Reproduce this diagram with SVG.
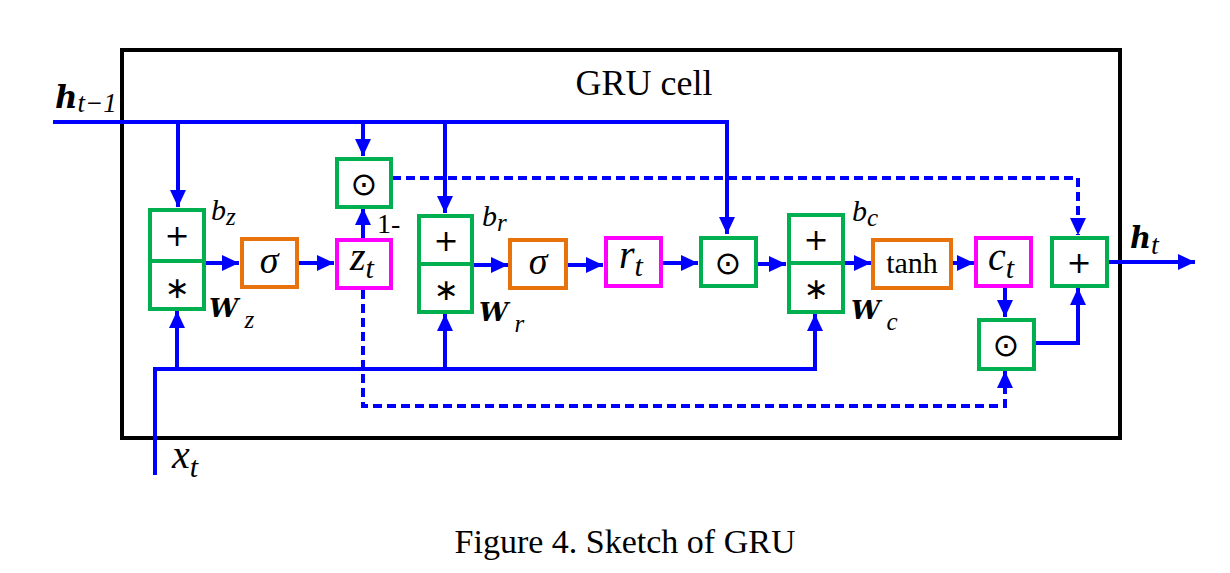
<svg xmlns="http://www.w3.org/2000/svg" width="1230" height="573" viewBox="0 0 1230 573">
<style>
.g{fill:#fff;stroke:#00B050;stroke-width:4}
.o{fill:#fff;stroke:#E8730C;stroke-width:4}
.m{fill:#fff;stroke:#FF00FF;stroke-width:4}
.w{fill:none;stroke:#0000FF;stroke-width:4}
.d{fill:none;stroke:#0000FF;stroke-width:4;stroke-dasharray:9 5}
.t{font-family:"Liberation Serif","DejaVu Serif",serif;fill:#000}
.mi{font-family:"Liberation Serif","DejaVu Serif",serif;font-style:italic;fill:#000}
.mb{font-family:"DejaVu Serif","Liberation Serif",serif;font-style:italic;font-weight:bold;fill:#000}
.op{font-family:"DejaVu Sans","Liberation Sans",sans-serif;fill:#000;text-anchor:middle}
</style>
<defs>
<marker id="a" markerUnits="userSpaceOnUse" markerWidth="18" markerHeight="16" refX="17" refY="8" orient="auto">
<path d="M0,0 L17,8 L0,16 Z" fill="#0000FF"/>
</marker>
</defs>
<rect x="0" y="0" width="1230" height="573" fill="#fff"/>
<rect x="122" y="50" width="998" height="388" fill="none" stroke="#000" stroke-width="4"/>
<text class="t" x="644" y="95" font-size="36" text-anchor="middle">GRU cell</text>
<text class="t" x="625" y="553" font-size="34" text-anchor="middle">Figure 4. Sketch of GRU</text>

<g id="connectors">
<path class="w" d="M53,122 H727 V234" marker-end="url(#a)"/>
<path class="w" d="M178,122 V207" marker-end="url(#a)"/>
<path class="w" d="M363,122 V156" marker-end="url(#a)"/>
<path class="w" d="M445,122 V213" marker-end="url(#a)"/>
<path class="w" d="M205,263 H239" marker-end="url(#a)"/>
<path class="w" d="M298,263 H334" marker-end="url(#a)"/>
<path class="w" d="M363,238 V208" marker-end="url(#a)"/>
<path class="w" d="M473,265 H508" marker-end="url(#a)"/>
<path class="w" d="M567,265 H603" marker-end="url(#a)"/>
<path class="w" d="M662,263 H698" marker-end="url(#a)"/>
<path class="w" d="M757,264 H786" marker-end="url(#a)"/>
<path class="w" d="M845,263 H871" marker-end="url(#a)"/>
<path class="w" d="M952,263 H974" marker-end="url(#a)"/>
<path class="w" d="M1005,287 V317" marker-end="url(#a)"/>
<path class="w" d="M1035,343 H1078 V288" marker-end="url(#a)"/>
<path class="w" d="M1108,262 H1195" marker-end="url(#a)"/>
<path class="d" d="M392,178 H1078 V235" marker-end="url(#a)"/>
<path class="d" d="M363,290 V406 H1005 V371" marker-end="url(#a)"/>
<path class="w" d="M155,475 V369 H815 V314" marker-end="url(#a)"/>
<path class="w" d="M177,369 V311" marker-end="url(#a)"/>
<path class="w" d="M445,369 V314" marker-end="url(#a)"/>
</g>

<g id="h_prev"><text class="mb" x="55" y="108" font-size="31">h<tspan class="mi" font-weight="normal" font-size="27" dy="4">t−1</tspan></text></g>
<g id="x_t"><text class="mi" x="172" y="468" font-size="40">x<tspan font-size="30" dy="9">t</tspan></text></g>
<g id="h_t"><text class="mb" x="1130" y="248" font-size="29">h<tspan class="mi" font-weight="normal" font-size="28" dy="6">t</tspan></text></g>

<g id="adder_z">
<rect class="g" x="150" y="210" width="54" height="99"/>
<line x1="150" y1="261" x2="204" y2="261" stroke="#00B050" stroke-width="4"/>
<text class="op" x="177" y="246" font-size="30">+</text>
<text class="op" x="177" y="298" font-size="30">∗</text>
<text class="mi" x="211" y="220" font-size="30">b<tspan font-size="25" dy="5">z</tspan></text>
<text class="mb" x="209" y="317" font-size="26">W<tspan class="mi" font-weight="normal" font-size="25" dy="11"> z</tspan></text>
</g>
<g id="sigma_z"><rect class="o" x="242" y="239" width="55" height="48"/><text class="mi" x="269" y="273" font-size="38" text-anchor="middle">σ</text></g>
<g id="z_t"><rect class="m" x="337" y="240" width="54" height="48"/><text class="mi" x="350" y="270" font-size="40">z<tspan font-size="30" dy="8">t</tspan></text>
<text class="t" x="377" y="233" font-size="28">1-</text></g>
<g id="odot_z"><rect class="g" x="337" y="159" width="54" height="48"/><text class="op" x="364" y="195" font-size="32">⊙</text></g>

<g id="adder_r">
<rect class="g" x="419" y="216" width="53" height="96"/>
<line x1="419" y1="264" x2="472" y2="264" stroke="#00B050" stroke-width="4"/>
<text class="op" x="446" y="251" font-size="30">+</text>
<text class="op" x="446" y="300" font-size="30">∗</text>
<text class="mi" x="482" y="226" font-size="30">b<tspan font-size="25" dy="5">r</tspan></text>
<text class="mb" x="479" y="321" font-size="26">W<tspan class="mi" font-weight="normal" font-size="25" dy="11"> r</tspan></text>
</g>
<g id="sigma_r"><rect class="o" x="510" y="240" width="56" height="48"/><text class="mi" x="538" y="274" font-size="38" text-anchor="middle">σ</text></g>
<g id="r_t"><rect class="m" x="606" y="238" width="55" height="48"/><text class="mi" x="619" y="268" font-size="40">r<tspan font-size="30" dy="8">t</tspan></text></g>
<g id="odot_r"><rect class="g" x="701" y="238" width="55" height="48"/><text class="op" x="728" y="274" font-size="32">⊙</text></g>

<g id="adder_c">
<rect class="g" x="789" y="215" width="54" height="97"/>
<line x1="789" y1="263" x2="843" y2="263" stroke="#00B050" stroke-width="4"/>
<text class="op" x="816" y="250" font-size="30">+</text>
<text class="op" x="816" y="299" font-size="30">∗</text>
<text class="mi" x="852" y="221" font-size="30">b<tspan font-size="25" dy="5">c</tspan></text>
<text class="mb" x="851" y="319" font-size="26">W<tspan class="mi" font-weight="normal" font-size="25" dy="11"> c</tspan></text>
</g>
<g id="tanh"><rect class="o" x="873" y="240" width="78" height="48"/><text class="t" x="912" y="273" font-size="30" text-anchor="middle">tanh</text></g>
<g id="c_t"><rect class="m" x="976" y="238" width="55" height="48"/><text class="mi" x="988" y="270" font-size="40">c<tspan font-size="30" dy="8">t</tspan></text></g>
<g id="odot_c"><rect class="g" x="979" y="320" width="55" height="49"/><text class="op" x="1006" y="356" font-size="32">⊙</text></g>
<g id="adder_h"><rect class="g" x="1052" y="238" width="55" height="48"/><text class="op" x="1079" y="273" font-size="30">+</text></g>
</svg>
